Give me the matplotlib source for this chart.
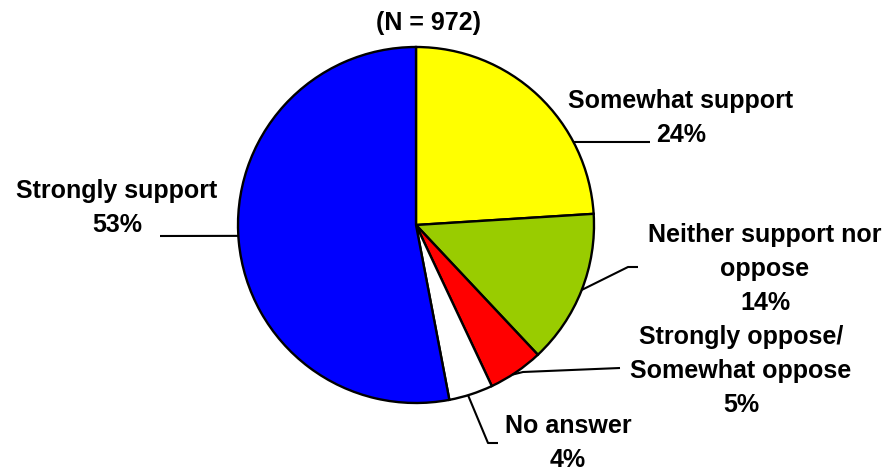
import numpy as np
import matplotlib
matplotlib.use("Agg")
import matplotlib.pyplot as plt

# ---- data ----
categories = ["Somewhat support", "Neither support nor\noppose",
              "Strongly oppose/\nSomewhat oppose", "No answer", "Strongly support"]
values = [24, 14, 5, 4, 53]
pct_labels = ["24%", "14%", "5%", "4%", "53%"]
colors = ["#FFFF00", "#99CC00", "#FF0000", "#FFFFFF", "#0000FF"]
subtitle = "(N = 972)"

# ---- layout (pixel coords from top-left) ----
W, H = 893, 469
cx, cy, R = 416, 225, 178
FS = 18
LINE = 34
# text centre x, first baseline y
text_pos = [(681, 108), (765, 242), (741, 344), (568, 433), (117, 198)]
# angle (deg) on rim where leader starts, then leader path points
anchor_ang = [27.8, -21.4, -57.2, -73.0, 183.5]
leader_pts = [[(650, 142)], [(628, 267), (638, 267)], [(523, 372), (620, 368)],
              [(488, 443), (498, 443)], [(160, 236)]]

plt.rcParams['font.family'] = ['Liberation Sans', 'DejaVu Sans']
fig = plt.figure(figsize=(W / 100, H / 100), dpi=100)
ax = fig.add_axes([0, 0, 1, 1])

def Y(y):
    return H - y

ax.pie(values, colors=colors, startangle=90, counterclock=False,
       center=(cx, Y(cy)), radius=R,
       wedgeprops=dict(edgecolor="black", linewidth=1.7))
ax.set_xlim(0, W)
ax.set_ylim(0, H)
ax.set_aspect("equal", adjustable="box")
ax.axis("off")

for i, (cat, pct) in enumerate(zip(categories, pct_labels)):
    lines = cat.split("\n") + [pct]
    tx, ty = text_pos[i]
    for j, ln in enumerate(lines):
        ax.text(tx, Y(ty + j * LINE), ln, ha="center", va="baseline",
                fontsize=FS, fontweight="bold", color="black")
    a = np.deg2rad(anchor_ang[i])
    ax0, ay0 = cx + R * np.cos(a), cy - R * np.sin(a)
    pts = [(ax0, ay0)] + leader_pts[i]
    ax.plot([p[0] for p in pts], [Y(p[1]) for p in pts], color="black",
            linewidth=1.5, solid_capstyle="butt")

ax.text(428, Y(30), subtitle, ha="center", va="baseline",
        fontsize=FS, fontweight="bold", color="black")

fig.savefig("out.png", dpi=100, facecolor="white")
